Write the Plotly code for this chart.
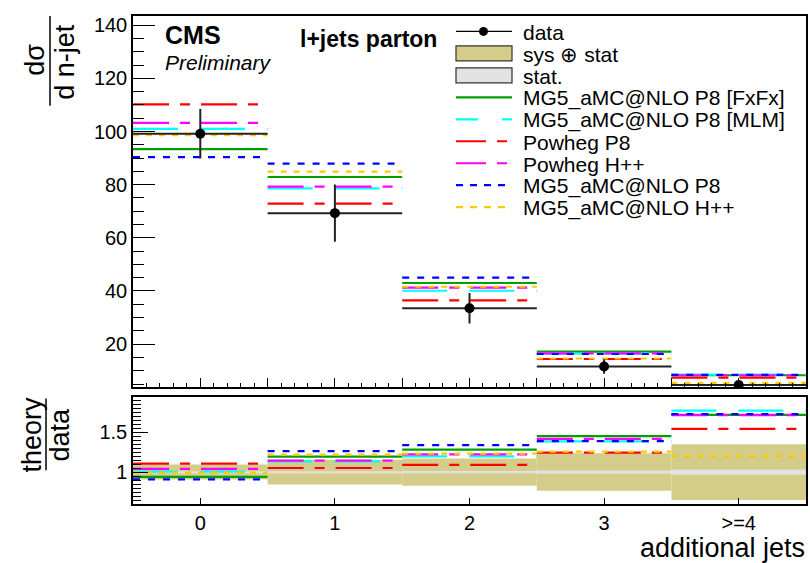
import plotly.graph_objects as go

# ---------------- data ----------------
categories = ["0", "1", "2", "3", ">=4"]
bin_centers = [0, 1, 2, 3, 4]

data_vals = [99.2, 69.3, 33.5, 11.6, 4.65]
data_err = [9.3, 10.8, 5.7, 2.7, 1.6]

top_fxfx = [93.4, 82.9, 43.0, 17.2, 8.3]
top_mlm = [101.0, 78.6, 40.1, 16.4, 8.5]
top_pwg_p8 = [110.2, 72.9, 36.5, 14.4, 7.4]
top_pwg_hpp = [103.3, 79.3, 41.3, 16.5, 8.3]
top_mg_p8 = [90.4, 87.9, 45.0, 16.3, 8.4]
top_mg_hpp = [98.6, 84.9, 41.6, 14.6, 5.4]

ratio_fxfx = [0.939, 1.193, 1.28, 1.45, 1.717]
ratio_mlm = [1.006, 1.135, 1.197, 1.384, 1.77]
ratio_pwg_p8 = [1.106, 1.051, 1.091, 1.244, 1.542]
ratio_pwg_hpp = [1.039, 1.143, 1.222, 1.415, 1.712]
ratio_mg_p8 = [0.91, 1.263, 1.338, 1.388, 1.725]
ratio_mg_hpp = [0.994, 1.218, 1.23, 1.256, 1.193]

sys_half = [0.094, 0.156, 0.17, 0.235, 0.348]
stat_half = [0.01, 0.012, 0.015, 0.02, 0.033]

legend_labels = ["data", "sys \u2295 stat", "stat.", "MG5_aMC@NLO P8 [FxFx]",
                 "MG5_aMC@NLO P8 [MLM]", "Powheg P8", "Powheg H++",
                 "MG5_aMC@NLO P8", "MG5_aMC@NLO H++"]

# ---------------- styles ----------------
W, H = 810, 563
FONT = "Liberation Sans, Arial, Helvetica, sans-serif"
C_SYS = "#d4cd8a"
C_STAT = "#e2e2e2"
series_styles = [
    ("#00a000", "solid"),
    ("#00ffff", "45px,22px"),
    ("#ff0000", "36px,11px,10px,11px"),
    ("#ff00ff", "36px,11px,10px,11px"),
    ("#0000ff", "7px,8px"),
    ("#ffc800", "6px,7px"),
]
legend_dash = ["solid", "22px,24px", "30px,11px,10px,20px", "30px,11px,10px,20px",
               "7px,7px", "7px,7px"]

top_series = [top_fxfx, top_mlm, top_pwg_p8, top_pwg_hpp, top_mg_p8, top_mg_hpp]
ratio_series = [ratio_fxfx, ratio_mlm, ratio_pwg_p8, ratio_pwg_hpp, ratio_mg_p8, ratio_mg_hpp]


def px(x):
    return x / W


def py(y):
    return 1 - y / H


def step_segments(vals):
    xs, ys = [], []
    for c, v in zip(bin_centers, vals):
        xs += [c - 0.5, c + 0.5, None]
        ys += [v, v, None]
    return xs, ys


fig = go.Figure()

# ---------------- ratio panel bands ----------------
fig.add_trace(go.Bar(x=bin_centers, y=[2 * e for e in sys_half],
                     base=[1 - e for e in sys_half], width=1,
                     marker=dict(color=C_SYS, line=dict(width=0)),
                     xaxis="x2", yaxis="y2", hoverinfo="skip"))
fig.add_trace(go.Bar(x=bin_centers, y=[2 * e for e in stat_half],
                     base=[1 - e for e in stat_half], width=1,
                     marker=dict(color=C_STAT, line=dict(width=0)),
                     xaxis="x2", yaxis="y2", hoverinfo="skip"))

# ---------------- theory lines ----------------
for vals, rvals, (col, dash) in zip(top_series, ratio_series, series_styles):
    xs, ys = step_segments(vals)
    fig.add_trace(go.Scatter(x=xs, y=ys, mode="lines",
                             line=dict(color=col, width=2.2, dash=dash),
                             xaxis="x", yaxis="y", hoverinfo="skip"))
    xs, ys = step_segments(rvals)
    fig.add_trace(go.Scatter(x=xs, y=ys, mode="lines",
                             line=dict(color=col, width=2.2, dash=dash),
                             xaxis="x2", yaxis="y2", hoverinfo="skip"))

# ---------------- data ----------------
fig.add_trace(go.Scatter(
    x=bin_centers, y=data_vals, mode="markers",
    marker=dict(color="black", size=10),
    error_y=dict(type="data", array=data_err, color="#222", thickness=2, width=0),
    error_x=dict(type="constant", value=0.5, color="#222", thickness=2, width=0),
    xaxis="x", yaxis="y", hoverinfo="skip", cliponaxis=True))

# ---------------- axes ----------------
xdom = [px(133), px(806)]
tick_font = dict(family=FONT, size=20, color="black")
fig.update_layout(
    width=W, height=H, margin=dict(l=0, r=0, t=0, b=0),
    paper_bgcolor="white", plot_bgcolor="white", showlegend=False,
    barmode="overlay",
    xaxis=dict(domain=xdom, range=[-0.5, 4.5], anchor="y",
               showline=True, mirror=True, linecolor="black", linewidth=1.5,
               showgrid=False, zeroline=False, showticklabels=False,
               ticks="inside", tickvals=[-0.5 + 0.5 * i for i in range(11)],
               ticklen=10, tickcolor="black", tickwidth=1.2,
               minor=dict(dtick=0.1, tick0=-0.5, ticks="inside", ticklen=5,
                          tickcolor="black", tickwidth=1, showgrid=False)),
    yaxis=dict(domain=[py(386.7), py(14)], range=[3.75, 143.5], anchor="x",
               showline=True, mirror=True, linecolor="black", linewidth=1.5,
               showgrid=False, zeroline=False,
               ticks="inside", tickvals=[20, 40, 60, 80, 100, 120, 140],
               ticklen=22, tickcolor="black", tickwidth=1.2, tickfont=tick_font,
               minor=dict(dtick=5, tick0=0, ticks="inside", ticklen=11,
                          tickcolor="black", tickwidth=1, showgrid=False)),
    xaxis2=dict(domain=xdom, range=[-0.5, 4.5], anchor="y2",
                showline=True, mirror=True, linecolor="black", linewidth=1.5,
                showgrid=False, zeroline=False,
                ticks="inside", tickvals=bin_centers, ticktext=categories,
                ticklen=6, tickcolor="black", tickwidth=1.2, tickfont=tick_font),
    yaxis2=dict(domain=[py(504), py(396)], range=[0.598, 1.945], anchor="x2",
                showline=True, mirror=True, linecolor="black", linewidth=1.5,
                showgrid=False, zeroline=False,
                ticks="inside", tickvals=[1, 1.5], ticktext=["1", "1.5"],
                ticklen=15, tickcolor="black", tickwidth=1.2, tickfont=tick_font,
                minor=dict(dtick=0.05, tick0=0, ticks="inside", ticklen=8,
                           tickcolor="black", tickwidth=1, showgrid=False)),
)

ann = []


def text(x, y, s, size, xanchor="left", angle=0, **kw):
    ann.append(dict(x=px(x), y=py(y), xref="paper", yref="paper", text=s,
                    showarrow=False, xanchor=xanchor, yanchor="middle",
                    textangle=angle, font=dict(family=FONT, size=size, color="black"),
                    borderpad=0, **kw))


text(164, 33, "<b>CMS</b>", 25)
text(164, 61, "<i>Preliminary</i>", 21)
text(299, 37, "<b>l+jets parton</b>", 23)

# axis titles
text(35, 58, "d\u03c3", 27, xanchor="center", angle=-90)
text(65, 60, "d n-jet", 27, xanchor="center", angle=-90)
text(32, 434, "theory", 27, xanchor="center", angle=-90)
text(60, 434, "data", 27, xanchor="center", angle=-90)
text(806, 548, "additional jets", 27, xanchor="right")

shapes = [
    dict(type="line", xref="paper", yref="paper", x0=px(50), x1=px(50),
         y0=py(14), y1=py(104), line=dict(color="black", width=1.5)),
    dict(type="line", xref="paper", yref="paper", x0=px(46), x1=px(46),
         y0=py(398), y1=py(470), line=dict(color="black", width=1.5)),
]

# legend (manual)
row0, dy = 29.5, 22.05
lx0, lx1, tx = 456, 512, 522
for i, lab in enumerate(legend_labels):
    yy = row0 + dy * i
    text(tx, yy + 1, lab, 21)
    if i == 0:
        shapes.append(dict(type="line", xref="paper", yref="paper", x0=px(lx0), x1=px(lx1),
                           y0=py(yy), y1=py(yy), line=dict(color="black", width=1.3)))
        shapes.append(dict(type="circle", xref="paper", yref="paper",
                           x0=px(479), x1=px(488), y0=py(yy - 4.5), y1=py(yy + 4.5),
                           fillcolor="black", line=dict(color="black", width=0)))
    elif i in (1, 2):
        col = C_SYS if i == 1 else C_STAT
        shapes.append(dict(type="rect", xref="paper", yref="paper",
                           x0=px(lx0), x1=px(lx1), y0=py(yy - 7.5), y1=py(yy + 7.5),
                           fillcolor=col, line=dict(color="#333", width=1.2)))
    else:
        col = series_styles[i - 3][0]
        shapes.append(dict(type="line", xref="paper", yref="paper", x0=px(lx0), x1=px(lx1),
                           y0=py(yy), y1=py(yy),
                           line=dict(color=col, width=2.2, dash=legend_dash[i - 3])))

fig.update_layout(annotations=ann, shapes=shapes)
fig.write_html("out.html")
